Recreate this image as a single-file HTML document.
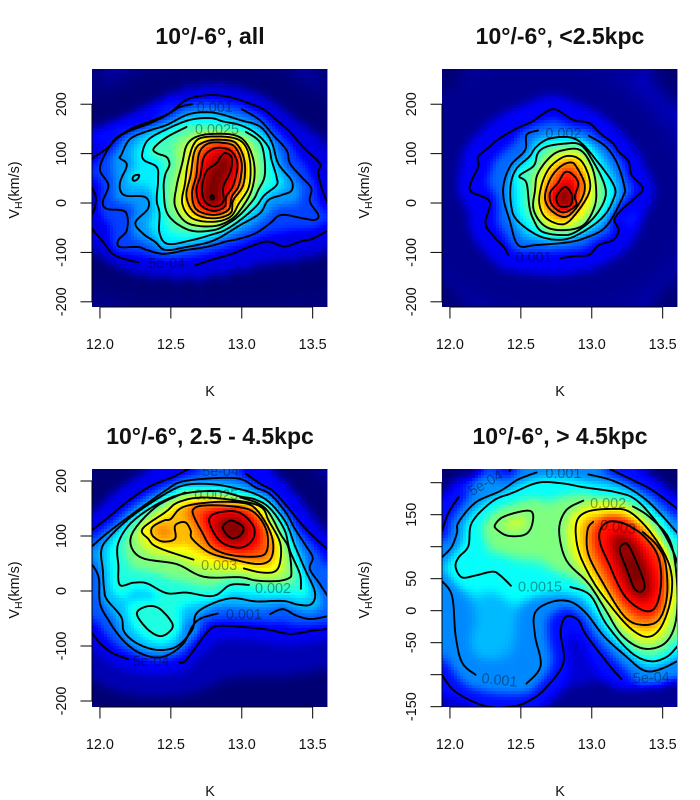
<!DOCTYPE html>
<html lang="en">
<head>
<meta charset="utf-8">
<title>Density maps of K versus heliocentric velocity</title>
<style>
html,body{margin:0;padding:0;background:#fff;}
svg{display:block;font-family:"Liberation Sans",Arial,Helvetica,sans-serif;}
</style>
</head>
<body>
<svg id="figure" xmlns="http://www.w3.org/2000/svg" width="700" height="800" viewBox="0 0 700 800"></svg>
<script>
const kTicks = [12, 12.5, 13, 13.5];
const kTickLabels = ['12.0', '12.5', '13.0', '13.5'];
const vTicksWide = [-200, -100, 0, 100, 200];
const vLabelsWide = ['-200', '-100', '0', '100', '200'];
const vTicksFar = [-150, -100, -50, 0, 50, 100, 150, 200];
const vLabelsFar = ['-150', '', '-50', '0', '50', '', '150', ''];
const titles = ['10°/-6°, all', '10°/-6°, <2.5kpc', '10°/-6°, 2.5 - 4.5kpc', '10°/-6°, > 4.5kpc'];
const kDomain = [11.944, 13.601];
const vDomains = [[-210.5, 271.3], [-210.5, 271.3], [-210.9, 221.8], [-150.5, 221.4]];
const peakLevels = [0.0058, 0.0096, 0.0051, 0.0041];

/* each contour: [level, closed, [[K, V], ...]] */
const contoursAll = [
[0.0005,false,[[11.93,80],[11.95,91],[12.05,111],[12.12,133],[12.24,153],[12.35,165],[12.49,182],[12.61,209],[12.75,218],[12.89,216],[13.03,204],[13.15,190],[13.245,168],[13.34,144],[13.43,114],[13.55,80],[13.54,63],[13.56,33],[13.61,-4]]],
[0.0005,false,[[13.61,-55],[13.50,-72],[13.41,-78],[13.30,-88],[13.18,-78],[13.06,-88],[12.94,-102],[12.80,-114],[12.67,-126]]],
[0.0005,false,[[12.27,-120],[12.18,-114],[12.09,-103],[12.02,-78],[11.96,-58],[11.93,-45]]],
[0.0005,false,[[11.93,40],[11.97,13],[11.96,-14],[11.93,-28]]],
[0.001,false,[[13.0,190],[13.127,168],[13.22,138],[13.316,107],[13.34,80],[13.42,53],[13.49,30],[13.48,3],[13.54,-24],[13.516,-34],[13.43,-31],[13.28,-24],[13.2,-41],[13.10,-61],[12.987,-72],[12.89,-78],[12.75,-89],[12.61,-95],[12.45,-103],[12.33,-95],[12.27,-89],[12.14,-89],[12.13,-75],[12.19,-55],[12.18,-18],[12.05,-12],[12.02,3],[12.06,36],[12.0,67],[12.04,101],[12.11,128],[12.20,145],[12.35,161],[12.47,178],[12.56,194],[12.65,200]]],
[0.0015,true,[[12.14,91],[12.19,77],[12.14,40],[12.17,16],[12.32,12],[12.34,-11],[12.25,-39],[12.30,-61],[12.39,-79],[12.46,-95],[12.61,-89],[12.80,-76],[12.987,-45],[13.127,-21],[13.187,6],[13.28,16],[13.35,25],[13.35,46],[13.257,80],[13.21,124],[13.127,155],[12.987,168],[12.80,183],[12.63,180],[12.47,158],[12.33,145],[12.21,129],[12.15,97]]],
[0.002,true,[[12.23,48],[12.24,55],[12.275,57],[12.27,50],[12.245,45]]],
[0.002,true,[[12.30,103],[12.31,87],[12.40,73],[12.41,47],[12.40,6],[12.42,-20],[12.42,-61],[12.48,-83],[12.65,-75],[12.80,-63],[12.88,-55],[12.987,-35],[13.10,-7],[13.16,16],[13.245,36],[13.245,53],[13.21,87],[13.187,114],[13.10,141],[12.987,158],[12.87,165],[12.78,172],[12.63,168],[12.46,148],[12.34,128]]],
[0.0025,false,[[13.03,144],[13.127,124],[13.16,90],[13.16,53],[13.116,26],[13.08,6],[12.987,-24],[12.90,-42],[12.80,-55],[12.63,-55],[12.48,-24],[12.45,26],[12.46,57],[12.49,77],[12.47,93],[12.40,101],[12.38,111],[12.47,133],[12.61,154]]],
[0.003,true,[[12.73,138],[12.94,138],[13.04,118],[13.09,73],[13.07,26],[12.99,-14],[12.92,-34],[12.80,-47],[12.62,-41],[12.53,-7],[12.54,33],[12.58,80],[12.62,121]]],
[0.0035,true,[[12.73,133],[12.92,133],[13.02,118],[13.06,80],[13.05,33],[12.98,-1],[12.92,-28],[12.80,-38],[12.65,-31],[12.58,-1],[12.60,40],[12.62,80],[12.66,118]]],
[0.004,true,[[12.85,128],[12.96,121],[13.02,84],[13.01,36],[12.94,6],[12.92,-21],[12.80,-31],[12.67,-21],[12.61,13],[12.64,57],[12.67,107],[12.74,124]]],
[0.0045,true,[[12.86,122],[12.95,114],[13.0,80],[12.98,36],[12.93,13],[12.905,-14],[12.80,-24],[12.68,-13],[12.65,20],[12.68,57],[12.70,101],[12.76,120]]],
[0.005,true,[[12.85,112],[12.93,104],[12.97,77],[12.94,36],[12.89,13],[12.88,-7],[12.80,-16],[12.71,-4],[12.68,26],[12.71,57],[12.73,91],[12.78,107]]],
[0.0055,true,[[12.89,101],[12.93,91],[12.92,64],[12.87,33],[12.87,3],[12.81,-7],[12.74,3],[12.72,30],[12.75,64],[12.82,80],[12.86,97]]],
[0.006,true,[[12.79,16],[12.804,11],[12.79,7],[12.78,11]]]
];
const contoursNear = [
[0.001,false,[[12.78,-112],[12.89,-107],[12.98,-105],[13.05,-85],[13.15,-75],[13.19,-55],[13.16,-34],[13.21,-14],[13.30,9],[13.36,30],[13.28,57],[13.26,84],[13.19,104],[13.15,121],[13.06,141],[12.98,162],[12.87,168],[12.75,189],[12.68,185],[12.58,165],[12.47,151],[12.34,129],[12.28,114],[12.20,94],[12.20,74],[12.15,43],[12.15,23],[12.28,3],[12.25,-41],[12.31,-68],[12.38,-89],[12.41,-105]]],
[0.002,false,[[12.98,136],[13.10,114],[13.18,80],[13.23,33],[13.22,13],[13.10,-48],[12.94,-72],[12.82,-80],[12.61,-85],[12.48,-85],[12.42,-34],[12.38,6],[12.38,40],[12.43,77],[12.53,107],[12.54,138],[12.62,147]]],
[0.003,true,[[12.71,131],[12.89,129],[13.05,80],[13.16,33],[13.15,6],[13.08,-28],[12.94,-58],[12.80,-74],[12.63,-67],[12.47,-34],[12.43,-1],[12.43,40],[12.47,70],[12.56,94],[12.61,114]]],
[0.004,true,[[12.80,120],[12.92,118],[13.01,84],[13.09,37],[13.09,6],[13.01,-31],[12.89,-58],[12.80,-65],[12.65,-58],[12.59,-34],[12.56,-7],[12.54,41],[12.49,55],[12.59,75],[12.62,101],[12.68,114]]],
[0.005,true,[[12.80,107],[12.92,107],[13.0,74],[13.03,33],[13.02,-7],[12.94,-45],[12.80,-55],[12.67,-47],[12.59,-14],[12.60,26],[12.62,60],[12.71,94]]],
[0.006,true,[[12.82,95],[12.92,87],[12.98,53],[12.98,20],[12.89,-21],[12.80,-43],[12.68,-31],[12.63,-1],[12.65,40],[12.71,74]]],
[0.007,true,[[12.85,82],[12.89,74],[12.95,37],[12.92,3],[12.82,-28],[12.71,-14],[12.67,13],[12.71,50],[12.78,74]]],
[0.008,true,[[12.81,62],[12.86,59],[12.905,40],[12.88,13],[12.89,-4],[12.80,-19],[12.72,-4],[12.705,20],[12.76,40]]],
[0.009,true,[[12.78,26],[12.82,32],[12.86,16],[12.85,-4],[12.78,-7],[12.75,9]]]
];
const contoursMid = [
[0.0005,false,[[11.93,108],[12.05,132],[12.19,162],[12.35,190],[12.52,208],[12.61,220],[12.66,225]]],
[0.0005,false,[[13.03,213],[13.13,195],[13.22,182],[13.316,155],[13.41,125],[13.50,100],[13.62,72]]],
[0.0005,false,[[13.62,-69],[13.50,-72],[13.34,-78],[13.18,-70],[12.99,-65],[12.82,-64],[12.75,-77],[12.68,-101],[12.60,-128],[12.56,-130]]],
[0.0005,false,[[12.20,-124],[12.09,-113],[12.0,-95],[11.93,-71]]],
[0.001,false,[[11.93,78],[12.05,105],[12.235,141],[12.47,184],[12.58,199],[12.80,205],[12.987,204],[13.10,188],[13.2,176],[13.31,143],[13.375,113],[13.445,85],[13.50,61],[13.48,40],[13.55,13],[13.62,-15]]],
[0.001,false,[[13.2,-42],[13.29,-33],[13.387,-45],[13.49,-51],[13.62,-45]]],
[0.001,false,[[12.83,-41],[12.71,-50],[12.65,-65],[12.59,-95],[12.49,-115],[12.39,-121],[12.26,-110],[12.15,-86],[12.06,-53],[12.0,-22],[11.99,26],[11.93,53]]],
[0.0015,true,[[12.01,75],[12.02,38],[12.03,2],[12.05,-16],[12.15,-47],[12.17,-74],[12.26,-95],[12.40,-107],[12.54,-101],[12.65,-71],[12.68,-41],[12.80,-22],[12.94,-13],[13.10,-19],[13.29,-18],[13.40,-25],[13.49,-24],[13.516,-2],[13.445,40],[13.375,82],[13.31,125],[13.2,160],[13.10,176],[12.987,185],[12.80,194],[12.61,193],[12.47,178],[12.235,138],[12.07,99]]],
[0.002,false,[[13.417,4],[13.41,31],[13.34,73],[13.3,112],[13.2,150],[13.10,166],[12.987,172],[12.80,182],[12.52,172],[12.25,131],[12.13,88],[12.13,46],[12.14,11],[12.235,15],[12.33,14],[12.47,-4],[12.61,-3],[12.80,-9],[12.92,11],[13.05,11]]],
[0.002,true,[[12.26,-41],[12.33,-28],[12.42,-32],[12.51,-59],[12.49,-74],[12.42,-82],[12.33,-68]]],
[0.0025,false,[[12.99,170],[13.11,160],[13.19,143],[13.27,105],[13.33,78],[13.35,34],[13.33,23],[13.245,18],[13.10,19],[12.987,25],[12.73,26],[12.54,49],[12.28,62],[12.22,100],[12.39,152],[12.60,179]]],
[0.003,false,[[13.015,41],[13.13,34],[13.23,35],[13.27,52],[13.27,88],[13.19,128],[13.14,152],[13.0,163],[12.72,170],[12.55,161],[12.46,143],[12.30,113],[12.34,95],[12.41,79],[12.66,57]]],
[0.0035,true,[[12.45,128],[12.37,116],[12.37,101],[12.44,90],[12.53,95],[12.53,119],[12.60,125],[12.64,110],[12.65,95],[12.77,70],[12.93,58],[13.12,49],[13.21,61],[13.21,101],[13.10,149],[12.98,161],[12.77,161],[12.58,152],[12.50,131]]],
[0.004,true,[[12.66,149],[12.72,155],[12.88,155],[13.07,146],[13.17,113],[13.18,76],[13.12,63],[12.93,65],[12.79,79],[12.72,107],[12.66,137]]],
[0.0045,true,[[12.77,131],[12.84,143],[12.98,143],[13.08,119],[13.08,95],[13.0,79],[12.88,85],[12.81,103]]],
[0.005,true,[[12.87,119],[12.93,128],[13.01,116],[12.99,101],[12.93,96],[12.88,107]]]
];
const contoursFar = [
[0.0005,false,[[11.94,122],[11.99,153],[12.06,177]]],
[0.0005,false,[[12.42,218],[12.44,226]]],
[0.0005,false,[[13.13,221],[13.29,204],[13.43,188],[13.61,158]]],
[0.0005,false,[[11.94,-99],[12.04,-127],[12.25,-149],[12.46,-149],[12.58,-138],[12.67,-122],[12.80,-82],[12.78,-33],[12.82,-9],[12.905,-15],[12.96,-38],[13.13,-87],[13.21,-107]]],
[0.001,false,[[11.94,83],[12.01,99],[12.05,122],[12.06,138],[12.18,169],[12.355,187],[12.48,205],[12.61,216]]],
[0.001,false,[[12.976,213],[13.175,201],[13.39,172],[13.61,120]]],
[0.001,false,[[11.94,47],[12.015,23],[12.04,-39],[12.085,-81],[12.18,-100]]],
[0.001,false,[[12.54,-114],[12.64,-86],[12.60,-39],[12.60,-3],[12.72,14],[12.85,14],[12.96,-4],[13.09,-41],[13.245,-72],[13.34,-90],[13.41,-95],[13.50,-90],[13.62,-77]]],
[0.0015,false,[[12.43,39],[12.355,55],[12.30,61],[12.18,55],[12.085,52],[12.04,68],[12.06,83],[12.13,101],[12.155,138],[12.30,171],[12.44,184],[12.62,200],[12.79,199],[12.94,193],[13.175,185],[13.32,172],[13.48,131],[13.575,92],[13.62,63]]],
[0.0015,false,[[12.85,37],[12.99,24],[13.10,-20],[13.27,-64],[13.41,-79],[13.53,-72],[13.61,-54]]],
[0.002,true,[[12.32,135],[12.39,148],[12.567,156],[12.58,135],[12.53,119],[12.41,117],[12.33,127]]],
[0.002,false,[[12.94,172],[12.82,157],[12.77,126],[12.82,79],[12.975,43],[13.09,4],[13.21,-38],[13.36,-59],[13.516,-51],[13.594,-15],[13.60,48],[13.55,110],[13.41,146],[13.29,163]]],
[0.0025,true,[[12.89,136],[12.96,154],[13.13,159],[13.27,154],[13.43,118],[13.55,69],[13.56,22],[13.49,-25],[13.39,-41],[13.26,-25],[13.10,17],[12.99,53],[12.905,95]]],
[0.003,false,[[13.36,123],[13.46,102],[13.52,74],[13.53,22],[13.47,-15],[13.35,-22],[13.23,-9],[13.08,43],[12.975,89],[12.97,126],[13.01,139]]],
[0.0035,true,[[13.12,139],[13.06,126],[13.06,105],[13.12,74],[13.22,27],[13.33,4],[13.42,0],[13.47,17],[13.49,53],[13.46,89],[13.36,118],[13.23,136]]],
[0.004,true,[[13.21,102],[13.25,104],[13.30,84],[13.37,43],[13.35,30],[13.30,35],[13.25,63],[13.20,92]]]
];

/* undrawn density levels that complete each field, including the stretches hidden behind labels: [level, closed, [[K, V], ...]] */
const fieldExtraAll = [
[0,true,[[11.85,170],[12.1,190],[12.4,232],[12.8,258],[13.15,240],[13.42,190],[13.7,130],[13.7,-105],[13.3,-148],[12.8,-172],[12.3,-165],[12.0,-130],[11.85,-90],[11.8,40]]],
[0,true,[[11.8,280],[13.75,280],[13.75,-230],[11.8,-230]]],
[0.0005,false,[[12.67,-126],[12.47,-126],[12.27,-120]]],
[0.001,false,[[12.65,200],[12.82,197],[13.0,190]]],
[0.0025,false,[[12.61,154],[12.82,150],[13.03,144]]],
[0.0059,false,[[12.87,80],[12.81,45],[12.79,20]]],
[0.0017,false,[[12.2,60],[12.25,30]]]
];
const fieldExtraNear = [
[0.0002,true,[[11.98,100],[12.2,190],[12.5,230],[12.75,245],[13.05,210],[13.3,150],[13.5,50],[13.45,-60],[13.2,-140],[12.8,-170],[12.4,-160],[12.1,-100],[12.0,0]]],
[0,true,[[11.85,275],[13.7,275],[13.7,-225],[11.85,-225]]],
[0.001,false,[[12.41,-105],[12.59,-110],[12.78,-112]]],
[0.002,false,[[12.62,147],[12.8,143],[12.98,136]]],
[0.0098,false,[[12.8,14],[12.82,8]]]
];
const fieldExtraMid = [
[0,false,[[11.86,150],[12.05,200],[12.3,240]]],
[0,false,[[13.25,240],[13.5,170],[13.68,110]]],
[0,false,[[13.68,-170],[13.3,-190],[12.9,-200],[12.5,-215],[12.1,-205],[11.88,-180]]],
[0.00025,false,[[13.65,-105],[13.3,-118],[12.95,-108],[12.75,-128],[12.6,-162],[12.3,-168],[12.05,-148],[11.9,-112]]],
[0.0005,false,[[12.56,-130],[12.38,-128],[12.20,-124]]],
[0.001,false,[[12.83,-41],[13.02,-43],[13.2,-42]]],
[0.0025,false,[[12.60,179],[12.8,175],[12.99,170]]],
[0.003,false,[[12.66,57],[12.84,47],[13.015,41]]],
[0.002,false,[[13.05,11],[13.22,5],[13.417,4]]],
[0.0051,false,[[12.92,114],[12.96,112]]],
[0.0038,false,[[12.43,110],[12.46,106]]],
[0.0016,false,[[12.25,-5],[12.35,-8]]]
];
const fieldExtraFar = [
[0,false,[[11.9,200],[11.98,226],[12.1,236]]],
[0,false,[[13.42,232],[13.65,190]]],
[0.0001,false,[[12.75,-160],[12.92,-132],[13.1,-132],[13.3,-140],[13.65,-128]]],
[0.0003,false,[[12.87,-55],[12.92,-100]]],
[0.0002,false,[[11.88,-150],[12.1,-158]]],
[0.0012,false,[[12.25,-50],[12.33,-25],[12.33,5]]],
[0.001,false,[[12.18,-100],[12.35,-108],[12.54,-114]]],
[0.001,false,[[12.61,216],[12.8,216],[12.976,213]]],
[0.0015,false,[[12.43,39],[12.64,38],[12.85,37]]],
[0.0023,false,[[12.43,135],[12.5,138]]],
[0.0042,false,[[13.27,72],[13.31,55]]]
];

/* printed contour labels: [text, K, V, rotation] */
const labelsAll = [['0.001',12.81,194,0],['0.0025',12.825,150,0],['5e-04',12.47,-121,0]];
const labelsNear = [['0.002',12.80,142,0],['0.001',12.59,-109,0]];
const labelsMid = [['5e-04',12.85,218,0],['0.0025',12.82,175,0],['0.003',12.84,47,0],['0.002',13.22,5,0],['0.001',13.015,-42,0],['5e-04',12.36,-127,0]];
const labelsFar = [['5e-04',12.25,200,-30],['0.001',12.80,215,0],['0.002',13.115,168,0],['0.003',13.185,131,8],['0.0015',12.635,38,0],['0.001',12.35,-108,6],['5e-04',13.42,-104,-2]];

const contourSets = [contoursAll, contoursNear, contoursMid, contoursFar];
const fieldExtras = [fieldExtraAll, fieldExtraNear, fieldExtraMid, fieldExtraFar];
const labelSets = [labelsAll, labelsNear, labelsMid, labelsFar];
const vTickSets = [vTicksWide, vTicksWide, vTicksWide, vTicksFar];
const vLabelSets = [vLabelsWide, vLabelsWide, vLabelsWide, vLabelsFar];

const NS = 'http://www.w3.org/2000/svg';
const fig = document.getElementById('figure');
function make(tag, parent) {
  const el = document.createElementNS(NS, tag);
  parent.appendChild(el);
  return el;
}
function jet(t) {
  const stops = [[0, 0, 0, 115], [0.11, 0, 0, 255], [0.36, 0, 255, 255], [0.62, 255, 255, 0], [0.87, 255, 0, 0], [1, 128, 0, 0]];
  t = Math.max(0, Math.min(1, t));
  for (let i = 1; i < stops.length; i++) {
    if (t <= stops[i][0]) {
      const a = stops[i - 1], b = stops[i], f = (t - a[0]) / (b[0] - a[0]);
      return 'rgb(' + Math.round(a[1] + (b[1] - a[1]) * f) + ',' + Math.round(a[2] + (b[2] - a[2]) * f) + ',' + Math.round(a[3] + (b[3] - a[3]) * f) + ')';
    }
  }
  return 'rgb(128,0,0)';
}
function spline(p, closed) {
  const out = [], n = p.length, steps = 6;
  const at = i => closed ? p[(i + n) % n] : p[Math.max(0, Math.min(n - 1, i))];
  const segs = closed ? n : n - 1;
  for (let i = 0; i < segs; i++) {
    const a = at(i - 1), b = at(i), c = at(i + 1), d = at(i + 2);
    for (let s = 0; s < steps; s++) {
      const u = s / steps, u2 = u * u, u3 = u2 * u;
      out.push([
        0.5 * (2 * b[0] + (c[0] - a[0]) * u + (2 * a[0] - 5 * b[0] + 4 * c[0] - d[0]) * u2 + (3 * b[0] - a[0] - 3 * c[0] + d[0]) * u3),
        0.5 * (2 * b[1] + (c[1] - a[1]) * u + (2 * a[1] - 5 * b[1] + 4 * c[1] - d[1]) * u2 + (3 * b[1] - a[1] - 3 * c[1] + d[1]) * u3)
      ]);
    }
  }
  out.push(closed ? out[0] : p[n - 1]);
  return out;
}
function smooth(grid) {
  return grid.map((row, r) => row.map((_, c) => {
    let sum = 0, n = 0;
    for (let a = -1; a <= 1; a++) {
      for (let b = -1; b <= 1; b++) {
        if (grid[r + a] && grid[r + a][c + b] !== undefined) { sum += grid[r + a][c + b]; n++; }
      }
    }
    return sum / n;
  }));
}

titles.forEach((title, idx) => {
  const ox = idx % 2 ? 350 : 0, oy = idx > 1 ? 400 : 0;
  const left = 92 + ox, right = 327 + ox, top = 69 + oy, bottom = 307 + oy;
  const xOf = k => left + (k - kDomain[0]) / (kDomain[1] - kDomain[0]) * (right - left);
  const vd = vDomains[idx];
  const yOf = v => bottom - (v - vd[0]) / (vd[1] - vd[0]) * (bottom - top);

  const panel = make('g', fig);
  
  

  const clip = make('clipPath', panel);
  clip.setAttribute('id', 'clip-' + idx);
  const clipRect = make('rect', clip);
  clipRect.setAttribute('x', left);
  clipRect.setAttribute('y', top);
  clipRect.setAttribute('width', right - left);
  clipRect.setAttribute('height', bottom - top);

  /* field: distance-weighted blend of every contour and undrawn level */
  const lines = contourSets[idx].map(c => ({ level: c[0], pts: spline(c[2].map(q => [xOf(q[0]), yOf(q[1])]), c[1]) }));
  const extras = fieldExtras[idx].map(c => ({ level: c[0], pts: spline(c[2].map(q => [xOf(q[0]), yOf(q[1])]), c[1]) }));
  const sources = lines.concat(extras);
  const size = 3;
  const cols = Math.ceil((right - left) / size), rows = Math.ceil((bottom - top) / size);
  let field = [];
  for (let r = 0; r < rows; r++) {
    const row = [];
    const cy = top + (r + 0.5) * size;
    for (let c = 0; c < cols; c++) {
      const cx = left + (c + 0.5) * size;
      let sw = 0, sv = 0;
      for (const src of sources) {
        let best = 1e12;
        const pts = src.pts;
        for (let i = 0; i < pts.length; i += 2) {
          const dx = pts[i][0] - cx, dy = pts[i][1] - cy, d = dx * dx + dy * dy;
          if (d < best) best = d;
        }
        const w = 1 / Math.pow(best + 0.5, 2.5);
        sw += w;
        sv += w * src.level;
      }
      row.push(sv / sw);
    }
    field.push(row);
  }
  field = smooth(smooth(field));
  const heat = make('g', panel);
  
  
  heat.setAttribute('shape-rendering', 'crispEdges');
  for (let r = 0; r < rows; r++) {
    for (let c = 0; c < cols; c++) {
      const cell = make('rect', heat);
      
      
      const x0 = left + c * size, y0 = top + r * size;
      cell.setAttribute('x', x0);
      cell.setAttribute('y', y0);
      cell.setAttribute('width', Math.min(size, right - x0));
      cell.setAttribute('height', Math.min(size, bottom - y0));
      cell.setAttribute('fill', jet(field[r][c] / peakLevels[idx]));
    }
  }

  const contourGroup = make('g', panel);
  
  
  contourGroup.setAttribute('clip-path', 'url(#clip-' + idx + ')');
  lines.forEach(line => {
    const path = make('path', contourGroup);
    
    
    path.setAttribute('d', 'M' + line.pts.map(q => q[0].toFixed(1) + ' ' + q[1].toFixed(1)).join('L'));
    path.setAttribute('fill', 'none');
    path.setAttribute('stroke', '#000');
    path.setAttribute('stroke-width', '1.9');
    path.setAttribute('stroke-linejoin', 'round');
    path.setAttribute('stroke-linecap', 'round');
  });
  labelSets[idx].forEach(item => {
    const label = make('text', contourGroup);
    
    
    const lx = xOf(item[1]), ly = yOf(item[2]) + 5;
    label.setAttribute('x', lx);
    label.setAttribute('y', ly);
    label.setAttribute('text-anchor', 'middle');
    label.setAttribute('font-size', '14.4');
    label.setAttribute('fill', '#000');
    label.setAttribute('fill-opacity', '0.4');
    if (item[3]) label.setAttribute('transform', 'rotate(' + item[3] + ' ' + lx + ' ' + (ly - 5) + ')');
    label.textContent = item[0];
  });

  const edge = make('rect', panel);
  
  
  edge.setAttribute('x', right);
  edge.setAttribute('y', top);
  edge.setAttribute('width', '0.7');
  edge.setAttribute('height', bottom - top);
  edge.setAttribute('fill', '#667');

  const xAxis = make('g', panel);
  
  
  const xLine = make('line', xAxis);
  
  
  xLine.setAttribute('x1', xOf(kTicks[0]));
  xLine.setAttribute('x2', xOf(kTicks[kTicks.length - 1]));
  xLine.setAttribute('y1', bottom);
  xLine.setAttribute('y2', bottom);
  xLine.setAttribute('stroke', '#000');
  kTicks.forEach((k, i) => {
    const tick = make('line', xAxis);
    
    
    tick.setAttribute('x1', xOf(k));
    tick.setAttribute('x2', xOf(k));
    tick.setAttribute('y1', bottom);
    tick.setAttribute('y2', bottom + 11.5);
    tick.setAttribute('stroke', '#000');
    tick.setAttribute('stroke-width', '1');
    const text = make('text', xAxis);
    
    
    text.setAttribute('x', xOf(k));
    text.setAttribute('y', bottom + 42);
    text.setAttribute('text-anchor', 'middle');
    text.setAttribute('font-size', '14.4');
    text.setAttribute('fill', '#111');
    text.textContent = kTickLabels[i];
  });
  const xTitle = make('text', xAxis);
  
  
  xTitle.setAttribute('x', 210 + ox);
  xTitle.setAttribute('y', 396 + oy);
  xTitle.setAttribute('text-anchor', 'middle');
  xTitle.setAttribute('font-size', '14.4');
  xTitle.setAttribute('fill', '#111');
  xTitle.textContent = 'K';

  const yAxis = make('g', panel);
  
  
  const vt = vTickSets[idx], vl = vLabelSets[idx];
  const yLine = make('line', yAxis);
  
  
  yLine.setAttribute('x1', left);
  yLine.setAttribute('x2', left);
  yLine.setAttribute('y1', yOf(vt[0]));
  yLine.setAttribute('y2', yOf(vt[vt.length - 1]));
  yLine.setAttribute('stroke', '#000');
  vt.forEach((v, i) => {
    const tick = make('line', yAxis);
    
    
    tick.setAttribute('x1', left - 11.5);
    tick.setAttribute('x2', left);
    tick.setAttribute('y1', yOf(v));
    tick.setAttribute('y2', yOf(v));
    tick.setAttribute('stroke', '#000');
    tick.setAttribute('stroke-width', '1');
    if (!vl[i]) return;
    const text = make('text', yAxis);
    
    
    const tx = left - 26;
    text.setAttribute('x', tx);
    text.setAttribute('y', yOf(v));
    text.setAttribute('text-anchor', 'middle');
    text.setAttribute('font-size', '14.4');
    text.setAttribute('fill', '#111');
    text.setAttribute('transform', 'rotate(-90 ' + tx + ' ' + yOf(v) + ')');
    text.textContent = vl[i];
  });
  const yTitle = make('text', yAxis);
  
  
  const titleX = 19 + ox, titleY = 190 + oy;
  yTitle.setAttribute('x', titleX);
  yTitle.setAttribute('y', titleY);
  yTitle.setAttribute('text-anchor', 'middle');
  yTitle.setAttribute('font-size', '14.4');
  yTitle.setAttribute('fill', '#111');
  yTitle.setAttribute('transform', 'rotate(-90 ' + titleX + ' ' + titleY + ')');
  yTitle.textContent = 'V';
  const sub = make('tspan', yTitle);
  sub.setAttribute('dy', '3');
  sub.setAttribute('font-size', '10.5');
  sub.textContent = 'H';
  const rest = make('tspan', yTitle);
  rest.setAttribute('dy', '-3');
  rest.textContent = '(km/s)';

  const heading = make('text', panel);
  
  
  heading.setAttribute('x', 210 + ox);
  heading.setAttribute('y', 44 + oy);
  heading.setAttribute('text-anchor', 'middle');
  heading.setAttribute('font-size', '23');
  heading.setAttribute('font-weight', 'bold');
  heading.setAttribute('fill', '#111');
  heading.textContent = title;
});
</script>
</body>
</html>
